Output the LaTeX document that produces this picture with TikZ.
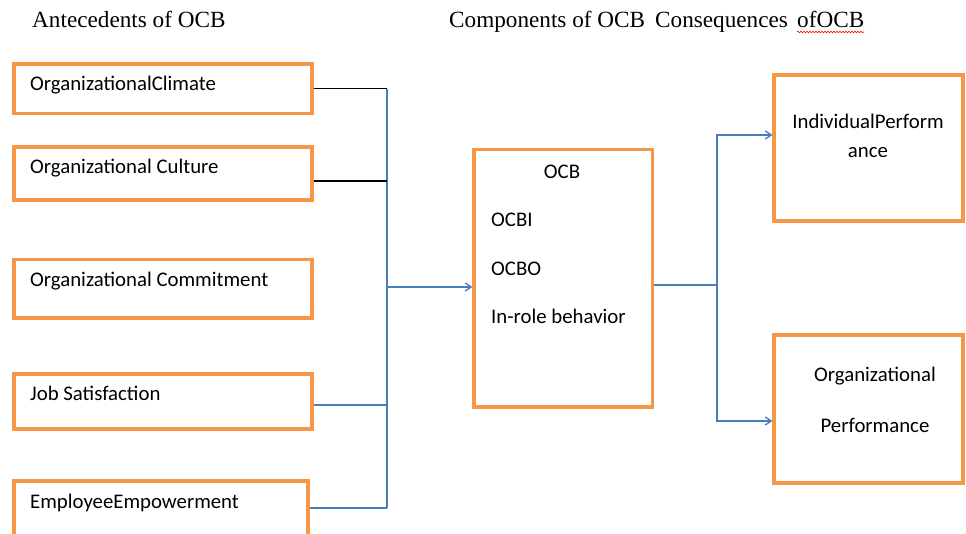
\documentclass[tikz,border=0pt]{standalone}
\usepackage{fontspec}
\setmainfont{Liberation Serif}
\newfontfamily\boxfont{Carlito}
\usetikzlibrary{arrows.meta,decorations.pathmorphing}
\definecolor{boxorange}{HTML}{F79646}
\definecolor{linkblue}{HTML}{4A7EBB}
\begin{document}
\begin{tikzpicture}[x=1pt,y=-1pt,
  box/.style={draw=boxorange,line width=3.2pt,inner sep=0pt,rectangle},
  lbl/.style={font=\boxfont\fontsize{20.8}{24}\selectfont,inner sep=0pt,text=black},
  head/.style={font=\fontsize{23.2}{26}\selectfont,inner sep=0pt,anchor=base west},
  blk/.style={draw=black,line width=1.2pt},
  blu/.style={draw=linkblue,line width=1.3pt},
  arr/.style={blu,-{Straight Barb[length=6pt,width=8pt]}}]
\useasboundingbox (0,0) rectangle (966,533);
\clip (0,0) rectangle (966,533);

% headers
\node[head] (h1) at (32,27) {Antecedents of OCB};
\node[head] (h2) at (449,27) {Components of OCB};
\node[head] (h3) at (655,27) {Consequences};
\node[head] (h4) at (797,27) {ofOCB};
\draw[red,line width=0.6pt,decorate,decoration={snake,amplitude=0.8pt,segment length=3pt}]
  ([yshift=-5pt]h4.base west) -- ([yshift=-5pt]h4.base east);

% left boxes
\node[box,minimum width=298pt,minimum height=49.5pt] (b1) at (163,88.75) {};
\node[box,minimum width=298pt,minimum height=53pt] (b2) at (163,173.5) {};
\node[box,minimum width=298pt,minimum height=58.5pt] (b3) at (163,288.75) {};
\node[box,minimum width=298pt,minimum height=55pt] (b4) at (163,401.5) {};
\node[box,minimum width=294pt,minimum height=59pt] (b5) at (161,510.5) {};
\node[lbl,anchor=base west] (t1) at (30,90) {OrganizationalClimate};
\node[lbl,anchor=base west] (t2) at (30,173) {Organizational Culture};
\node[lbl,anchor=base west] (t3) at (30,286) {Organizational Commitment};
\node[lbl,anchor=base west] (t4) at (30,400) {Job Satisfaction};
\node[lbl,anchor=base west] (t5) at (30,508) {EmployeeEmpowerment};

% OCB box
\node[box,minimum width=178.5pt,minimum height=257.5pt] (ocb) at (563.25,278.25) {};
\node[lbl,anchor=base] (o1) at (562,178) {OCB};
\node[lbl,anchor=base west] (o2) at (491,226) {OCBI};
\node[lbl,anchor=base west] (o3) at (491,275) {OCBO};
\node[lbl,anchor=base west] (o4) at (491,323) {In-role behavior};

% right boxes
\node[box,minimum width=189pt,minimum height=146pt] (r1) at (868.5,148) {};
\node[box,minimum width=189pt,minimum height=148pt] (r2) at (868.5,409) {};
\node[lbl,anchor=base] (p1) at (868,128) {IndividualPerform};
\node[lbl,anchor=base] (p2) at (868,157) {ance};
\node[lbl,anchor=base] (q1) at (875,381) {Organizational};
\node[lbl,anchor=base] (q2) at (875,432) {Performance};

% left connectors
\coordinate (j1) at (387,88.75);
\coordinate (j2) at (387,181);
\coordinate (j4) at (387,405);
\coordinate (j5) at (387,508);
\coordinate (jm) at (387,287);
\draw[blu] (j1) -- (j5);
\draw[blk] (b1.east) -- (j1);
\draw[blk] (b2.east |- j2) -- (j2);
\draw[blu] (b4.east |- j4) -- (j4);
\draw[blu] (b5.east |- j5) -- (j5);
\draw[arr] (jm) -- (ocb.west |- jm);

% right connectors
\coordinate (k) at (717,285);
\coordinate (kt) at (717,135);
\coordinate (kb) at (717,421);
\draw[blu] (ocb.east |- k) -- (k);
\draw[arr] (k) -- (kt) -- (r1.west |- kt);
\draw[arr] (k) -- (kb) -- (r2.west |- kb);
\end{tikzpicture}
\end{document}
